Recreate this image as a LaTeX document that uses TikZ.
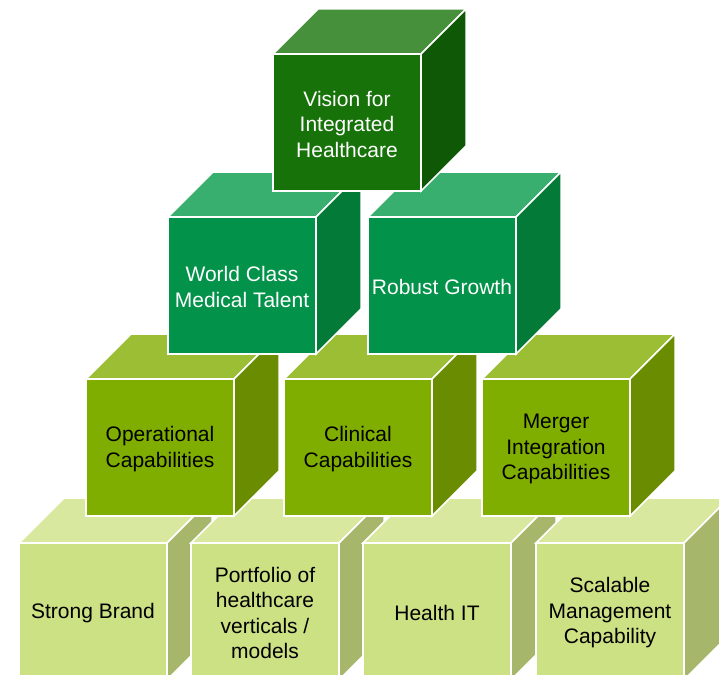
\documentclass[tikz,border=0pt]{standalone}
\usepackage{fontspec}
\setmainfont{Liberation Sans}
\usetikzlibrary{positioning}
\usepackage{xcolor}

\definecolor{visionfront}{HTML}{167209}
\definecolor{visiontop}{HTML}{468F3B}
\definecolor{visionside}{HTML}{0F5906}
\definecolor{growthfront}{HTML}{03924A}
\definecolor{growthtop}{HTML}{38AE6F}
\definecolor{growthside}{HTML}{037A37}
\definecolor{capfront}{HTML}{80AE00}
\definecolor{captop}{HTML}{9BBE34}
\definecolor{capside}{HTML}{6A8C00}
\definecolor{basefront}{HTML}{CCE084}
\definecolor{basetop}{HTML}{D8E89E}
\definecolor{baseside}{HTML}{A6B76C}

\begin{document}
\begin{tikzpicture}[x=1pt,y=-1pt,
    face/.style={draw=white,line width=1.5pt,line join=miter},
    cubetext/.style={font=\fontsize{21}{25.5}\selectfont,align=center}]
            \def\W{148}
            \def\H{137}
            \def\D{45}
            % corner x, corner y, colour prefix, node name, text colour, text
            \def\drawcube#1#2#3#4#5#6{
                \filldraw[face,fill=#3top] (#1,#2) -- ++(\D,-\D) -- ++(\W,0) -- ++(-\D,\D) -- cycle;
                \filldraw[face,fill=#3side] (#1+\W,#2) -- ++(\D,-\D) -- ++(0,\H) -- ++(-\D,\D) -- cycle;
                \filldraw[face,fill=#3front] (#1,#2) rectangle ++(\W,\H);
                \node[cubetext,text=#5] (#4) at (#1+\W/2,#2+\H/2+1.5) {#6};
            }

            \useasboundingbox (0,0) rectangle (719,674);
            \clip (0,0) rectangle (719,674);

            % bottom row
            \drawcube{19}{543}{base}{brand}{black}{Strong Brand}
            \drawcube{191}{543}{base}{portfolio}{black}{Portfolio of\\healthcare\\verticals /\\models}
            \drawcube{363}{543}{base}{healthit}{black}{Health IT}
            \drawcube{536}{543}{base}{scalable}{black}{Scalable\\Management\\Capability}

            % capabilities
            \drawcube{86}{379}{cap}{operational}{black}{Operational\\Capabilities}
            \drawcube{284}{379}{cap}{clinical}{black}{Clinical\\Capabilities}
            \drawcube{482}{379}{cap}{merger}{black}{Merger\\Integration\\Capabilities}

            \drawcube{168}{217}{growth}{talent}{white}{World Class\\Medical Talent}
            \drawcube{368}{217}{growth}{growth}{white}{Robust Growth}

            \drawcube{273}{54}{vision}{vision}{white}{Vision for\\Integrated\\Healthcare}
        \end{tikzpicture}
\end{document}
